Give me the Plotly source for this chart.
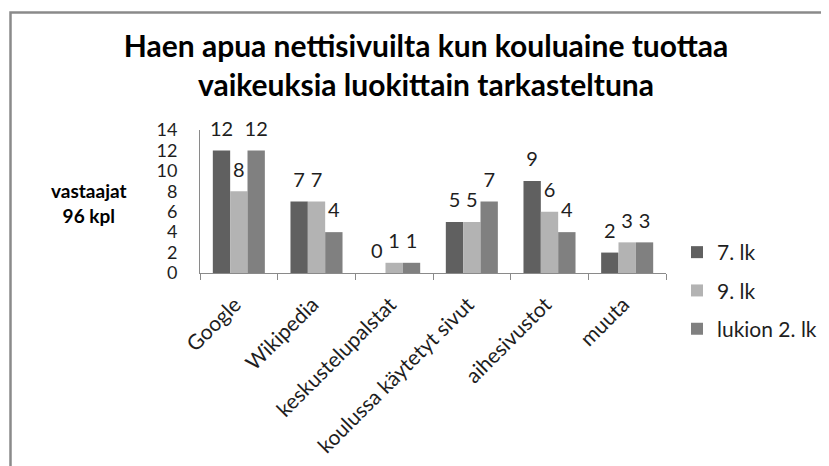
import plotly.graph_objects as go

# ---- data ----
categories = ["Google", "Wikipedia", "keskustelupalstat",
              "koulussa käytetyt sivut", "aihesivustot", "muuta"]
series_names = ["7. lk", "9. lk", "lukion 2. lk"]
values_7lk = [12, 7, 0, 5, 9, 2]
values_9lk = [8, 7, 1, 5, 6, 3]
values_lukio2 = [12, 4, 1, 7, 4, 3]
y_ticks = [0, 2, 4, 6, 8, 10, 12, 14]
title_lines = ["Haen apua nettisivuilta kun kouluaine tuottaa",
               "vaikeuksia luokittain tarkasteltuna"]
y_title_lines = ["vastaajat", "96 kpl"]

# ---- styling ----
colors = ["#606060", "#b3b3b3", "#808080"]
FONT = "Lato"
TEXT = "#1e1e1e"
AXIS = "#8a8a8a"

OFF = 8  # default page body margin
W, H = 829 - OFF, 466 - OFF
L, T = 200 - OFF, 130 - OFF
R = W - (666 - OFF)
B = H - (273 - OFF)
pw, ph = W - L - R, H - T - B


def px_x(px):  # page pixel -> paper x
    return (px - OFF - L) / pw


def px_y(py):  # page pixel -> paper y
    return (H - B - (py - OFF)) / ph


fig = go.Figure()
all_values = [values_7lk, values_9lk, values_lukio2]
for i, (name, vals) in enumerate(zip(series_names, all_values)):
    fig.add_trace(go.Bar(
        x=categories, y=vals, name=name, offsetgroup=str(i),
        legendgroup=name,
        marker=dict(color=colors[i], line=dict(width=0)),
    ))
for i, (name, vals) in enumerate(zip(series_names, all_values)):
    fig.add_trace(go.Scatter(
        x=categories, y=vals, mode="markers+text", offsetgroup=str(i),
        text=[str(v) for v in vals], textposition="top center",
        textfont=dict(family=FONT, size=20, color=TEXT),
        marker=dict(size=14, color="rgba(0,0,0,0)"),
        showlegend=False, cliponaxis=False, hoverinfo="skip",
    ))

fig.update_layout(
    width=W, height=H,
    margin=dict(l=L, r=R, t=T, b=B, autoexpand=False),
    paper_bgcolor="white", plot_bgcolor="white",
    barmode="group", bargap=0.33, bargroupgap=0,
    scattermode="group", scattergap=0.33,
    font=dict(family=FONT, color=TEXT),
    title=dict(
        text="<br>".join(title_lines),
        font=dict(family=FONT, size=30, color="#000", weight="bold"),
        x=(426 - OFF) / W, xref="container", xanchor="center",
        y=1 - 49 / H, yref="container", yanchor="middle",
    ),
    xaxis=dict(
        type="category", showline=True, linecolor=AXIS, linewidth=1,
        ticks="outside", tickson="boundaries", ticklen=6, tickcolor=AXIS,
        tickangle=-45, tickfont=dict(family=FONT, size=21, color=TEXT),
        ticklabelstandoff=10, ticklabelshift=-4,
        showgrid=False, automargin=False,
    ),
    yaxis=dict(
        range=[0, 14], tickvals=y_ticks, showline=True, linecolor=AXIS,
        linewidth=1, ticks="", ticklabelstandoff=18, showgrid=False,
        zeroline=False, tickfont=dict(family=FONT, size=18, color=TEXT),
        automargin=False,
    ),
    legend=dict(
        x=px_x(677), y=px_y(232), xanchor="left", yanchor="top",
        font=dict(family=FONT, size=21, color=TEXT),
        tracegroupgap=8, bgcolor="rgba(0,0,0,0)",
    ),
    annotations=[dict(
        text="<br>".join(y_title_lines), xref="paper", yref="paper",
        x=px_x(89), y=px_y(203), xanchor="center", yanchor="middle",
        showarrow=False, align="center",
        font=dict(family=FONT, size=19, color="#000", weight="bold"),
    )],
    shapes=[dict(
        type="rect", xref="paper", yref="paper",
        x0=px_x(10.5), y0=px_y(12.5), x1=px_x(900), y1=px_y(520),
        line=dict(color="#8a8a8a", width=2.5), fillcolor="rgba(0,0,0,0)",
        layer="below",
    )],
)

fig.write_html("out.html")
